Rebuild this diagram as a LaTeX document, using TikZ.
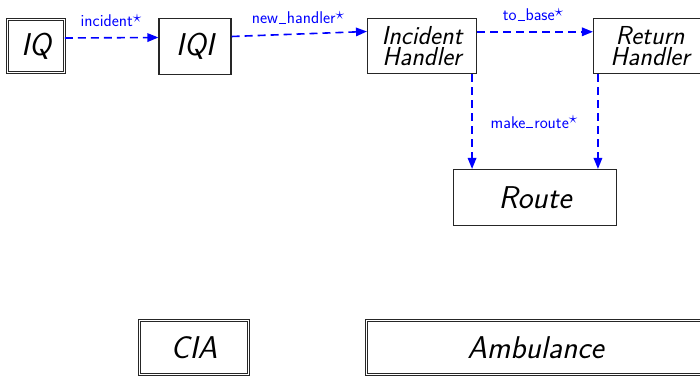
\documentclass[tikz,border=0pt]{standalone}
\usetikzlibrary{arrows.meta}
\begin{document}
\begin{tikzpicture}[x=1pt,y=-1pt,
  box/.style={draw=black!85,line width=1.1pt,rectangle,inner sep=0pt,
    font=\fontsize{31.5}{28}\selectfont\sffamily\itshape},
  dbox/.style={box,double,double distance=1.5pt,line width=0.75pt},
  handler/.style={box,align=center,
    font=\fontsize{26}{20.5}\selectfont\sffamily\itshape},
  msg/.style={color=blue,line width=1.6pt,dash pattern=on 8pt off 5pt,
    -{Triangle[length=11pt,width=8.5pt]}},
  lbl/.style={text=blue,inner sep=0pt,font=\fontsize{17}{18}\selectfont\sffamily}]
\useasboundingbox (0,0) rectangle (700,377);
\clip (0,0) rectangle (700,377);

% components
\node[dbox,minimum width=57pt,minimum height=53pt] (iq) at (36,46) {IQ};
\node[box,minimum width=72pt,minimum height=56pt] (iqi) at (195,46.5) {IQI};
\node[handler,minimum width=109pt,minimum height=55pt] (ih) at (422,46) {Incident\\Handler};
\node[handler,minimum width=113pt,minimum height=55pt] (rh) at (650,46) {Return\\Handler};
\node[box,minimum width=163pt,minimum height=56pt] (route) at (535,197.5) {Route};
\node[dbox,minimum width=109pt,minimum height=54pt] (cia) at (194,347.5) {CIA};
\node[dbox,minimum width=338pt,minimum height=54pt] (amb) at (535.5,347.5) {Ambulance};

% asynchronous messages
\draw[msg] ([yshift=8pt]iq.east) -- ([yshift=9pt]iqi.west);
\draw[msg] ([yshift=10pt]iqi.east) -- ([yshift=14.5pt]ih.west);
\draw[msg] ([yshift=14.2pt]ih.east) -- ([yshift=14.2pt]rh.west);
\draw[msg] ([xshift=-5pt]ih.south east) -- ([xshift=-5pt]ih.south east |- route.north);
\draw[msg] ([xshift=5pt]rh.south west) -- ([xshift=5pt]rh.south west |- route.north);

% message labels
\newcommand{\sigstar}{\raisebox{0.55ex}{$\star$}}
\newcommand{\lowbar}{\kern.05em\rule{0.42em}{0.07em}\kern.05em}
\node[lbl,anchor=base] (l1) at (111,27) {incident\sigstar};
\node[lbl,anchor=base] (l2) at (298,24) {new\lowbar handler\sigstar};
\node[lbl,anchor=base] (l3) at (533,21) {to\lowbar base\sigstar};
\node[lbl,anchor=base] (l4) at (534,128) {make\lowbar route\sigstar};
\end{tikzpicture}
\end{document}
